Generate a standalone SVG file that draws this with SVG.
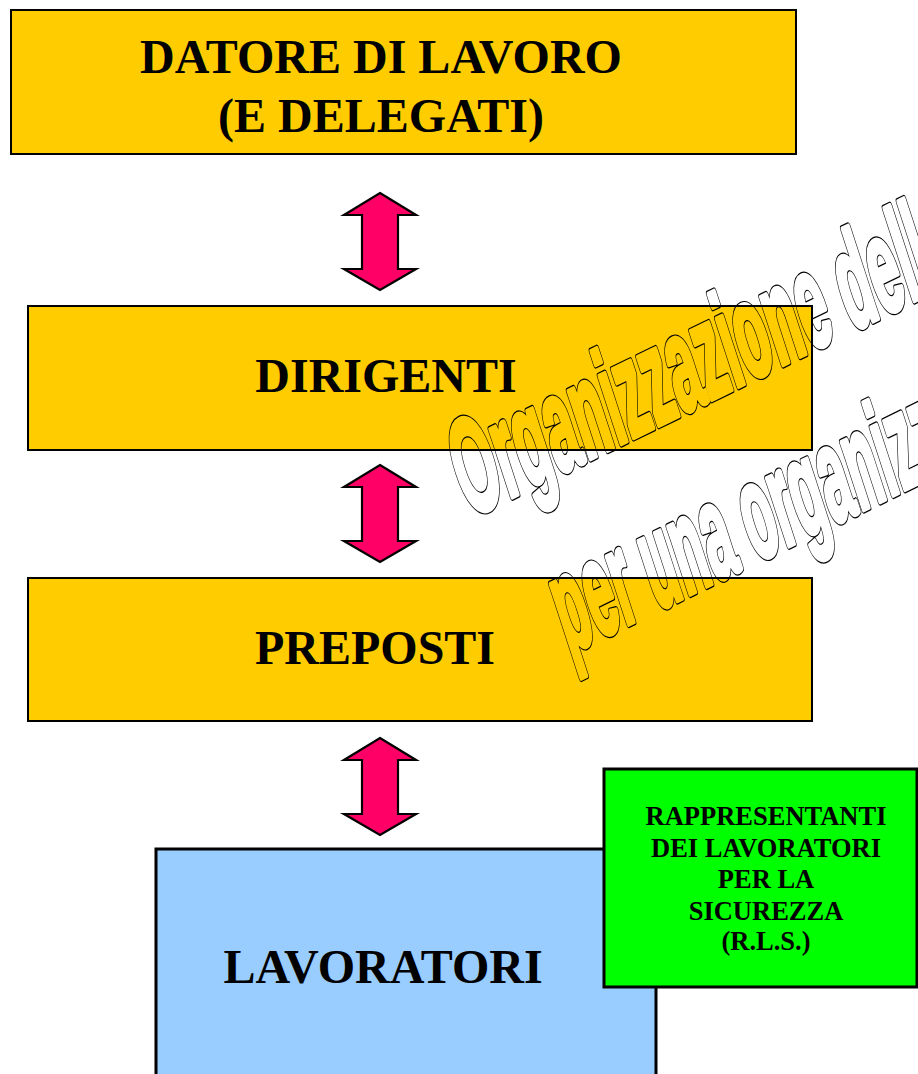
<svg xmlns="http://www.w3.org/2000/svg" width="918" height="1074" viewBox="0 0 918 1074">
<style>
.box{stroke:#000;stroke-width:2}
.yel{fill:#FFCC00}
.big{font-family:"Liberation Serif","Times New Roman",serif;font-weight:bold;font-size:48px;fill:#000;text-anchor:middle}
.small{font-family:"Liberation Serif","Times New Roman",serif;font-weight:bold;font-size:26.5px;fill:#000;text-anchor:middle}
.arrow{fill:#FF0066;stroke:#000;stroke-width:2.2;stroke-linejoin:miter}
</style>
<defs>
<path id="dblarrow" d="M0,0 L36,22 L18,22 L18,76 L36,76 L0,97 L-36,76 L-18,76 L-18,22 L-36,22 Z"/>
<g id="wmtext" font-family="'Liberation Sans', Arial, sans-serif" font-weight="bold" font-size="132">
<text x="0" y="0" transform="translate(468.9,517.7) rotate(-26) skewX(-8)" textLength="521.9" lengthAdjust="spacingAndGlyphs">Organizzazione dell</text>
<text x="0" y="0" transform="translate(568.4,653.4) rotate(-26) skewX(-8)" textLength="425" lengthAdjust="spacingAndGlyphs">per una organizz</text>
</g>
<mask id="wmmask" maskUnits="userSpaceOnUse" x="0" y="0" width="918" height="1074">
<rect width="918" height="1074" fill="#fff"/>
<use href="#wmtext" fill="#000" stroke="#000" stroke-width="5.6" stroke-linejoin="round"/>
</mask>
</defs>
<rect width="918" height="1074" fill="#fff"/>

<g id="datore">
<rect class="box yel" x="11" y="10" width="785" height="144"/>
<text class="big" x="381" y="73">DATORE DI LAVORO</text>
<text class="big" x="381" y="132">(E DELEGATI)</text>
</g>

<g id="dirigenti">
<rect class="box yel" x="28" y="306" width="784" height="144"/>
<text class="big" x="386" y="392">DIRIGENTI</text>
</g>

<g id="preposti">
<rect class="box yel" x="28" y="578" width="784" height="143"/>
<text class="big" x="375" y="664">PREPOSTI</text>
</g>

<g id="connectors">
<use href="#dblarrow" class="arrow" transform="translate(380,193)"/>
<use href="#dblarrow" class="arrow" transform="translate(380,465)"/>
<use href="#dblarrow" class="arrow" transform="translate(380,738)"/>
</g>

<g id="lavoratori">
<rect x="156" y="849" width="500" height="240" fill="#99CCFF" stroke="#000" stroke-width="3"/>
<text class="big" x="383" y="983">LAVORATORI</text>
</g>

<g id="rls">
<rect x="604" y="769" width="313" height="218" fill="#00FF00" stroke="#000" stroke-width="3"/>
<text class="small" x="766" y="825">RAPPRESENTANTI</text>
<text class="small" x="766" y="857">DEI LAVORATORI</text>
<text class="small" x="766" y="888">PER LA</text>
<text class="small" x="766" y="920">SICUREZZA</text>
<text class="small" x="766" y="950">(R.L.S.)</text>
</g>

<g id="watermark" mask="url(#wmmask)">
<use href="#wmtext" fill="none" stroke="#000" stroke-width="8" stroke-linejoin="round"/>
</g>
</svg>
